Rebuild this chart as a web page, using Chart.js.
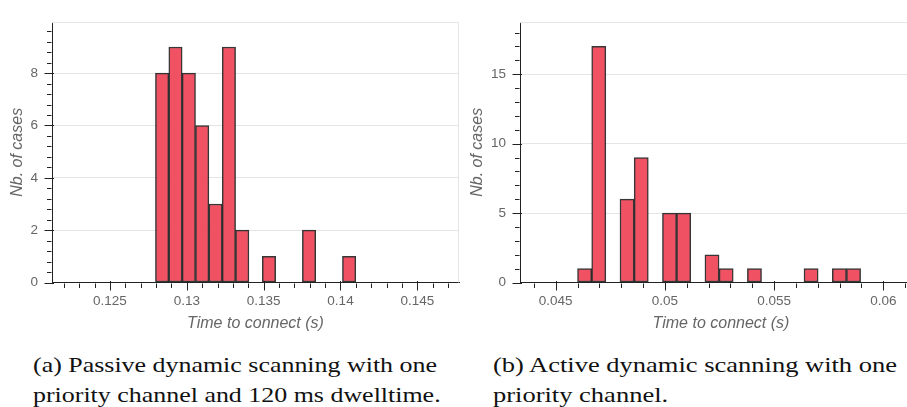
<!DOCTYPE html>
<html>
<head>
<meta charset="utf-8">
<script src="https://cdn.jsdelivr.net/npm/chart.js@4.4.1/dist/chart.umd.min.js"></script>
<style>
  html, body { margin: 0; padding: 0; background: #fff; overflow: hidden; }
  body { width: 907px; height: 407px; position: relative; }
  #passiveChart { position: absolute; left: 0; top: 0; }
  #activeChart { position: absolute; left: 460px; top: 0; }
  .caption {
    position: absolute; top: 350px;
    font-family: "Liberation Serif", "DejaVu Serif", serif;
    font-size: 21px; line-height: 30px; color: #111; white-space: nowrap;
    transform-origin: 0 0;
  }
  .caption span { display: inline-block; }
</style>
</head>
<body>
<canvas id="passiveChart" width="460" height="340"></canvas>
<canvas id="activeChart" width="465" height="340"></canvas>
<div class="caption" style="left:33px"><span>(a) Passive dynamic scanning with one</span><br><span>priority channel and 120 ms dwelltime.</span></div>
<div class="caption" style="left:493px"><span>(b) Active dynamic scanning with one</span><br><span>priority channel.</span></div>
<script>
// (a) passive scanning: bin centres (s) and counts
const passiveBins = [0.128395, 0.129264, 0.130133, 0.131002, 0.131871, 0.13274, 0.133609, 0.134478,
                     0.135347, 0.136216, 0.137085, 0.137954, 0.138823, 0.139692, 0.140561];
const passiveCounts = [8, 9, 8, 6, 3, 9, 2, 0, 1, 0, 0, 2, 0, 0, 1];
const passiveXTicks = [0.125, 0.13, 0.135, 0.14, 0.145];
const passiveYTicks = [0, 2, 4, 6, 8];

// (b) active scanning: bin centres (s) and counts
const activeBins = [0.046324, 0.046972, 0.04762, 0.048268, 0.048916, 0.049564, 0.050212, 0.05086,
                    0.051508, 0.052156, 0.052804, 0.053452, 0.0541, 0.054748, 0.055396, 0.056044,
                    0.056692, 0.05734, 0.057988, 0.058636];
const activeCounts = [1, 17, 0, 6, 9, 0, 5, 5, 0, 2, 1, 0, 1, 0, 0, 0, 1, 0, 1, 1];
const activeXTicks = [0.045, 0.05, 0.055, 0.06];
const activeYTicks = [0, 5, 10, 15];

const barFill = '#f05263';
const barEdge = 'rgba(20,20,20,0.85)';
const axisColor = '#222';
const labelColor = '#666';

// stretch the serif captions to the width of the LaTeX ones
document.querySelectorAll('.caption').forEach(c => {
    const w = c.querySelector('span').getBoundingClientRect().width;
    c.style.transform = 'scaleX(' + (404 / w) + ')';
});

// bokeh-style tick marks (major in/out, minor out) + light plot outline
const axisTicks = {
    id: 'axisTicks',
    beforeDatasetsDraw(chart) {
        const {ctx, chartArea: a} = chart;
        ctx.save();
        ctx.strokeStyle = '#e5e5e5';
        ctx.lineWidth = 1;
        ctx.beginPath();
        ctx.moveTo(a.left, a.top + 0.5);
        ctx.lineTo(a.right - 0.5, a.top + 0.5);
        ctx.lineTo(a.right - 0.5, a.bottom);
        ctx.stroke();
        ctx.restore();
    },
    afterDraw(chart, args, opts) {
        const {ctx, chartArea: a, scales: {x, y}} = chart;
        ctx.save();
        ctx.strokeStyle = axisColor;
        ctx.lineWidth = 1;
        ctx.beginPath();
        const yb = Math.round(a.bottom) + 0.5;
        const xl = Math.round(a.left) - 0.5;
        // x minor
        for (let v = Math.ceil(x.min / opts.xMinor) * opts.xMinor; v <= x.max; v += opts.xMinor) {
            const px = Math.round(x.getPixelForValue(v)) + 0.5;
            ctx.moveTo(px, yb); ctx.lineTo(px, yb + 4.5);
        }
        x.ticks.forEach(t => {
            const px = Math.round(x.getPixelForValue(t.value)) + 0.5;
            ctx.moveTo(px, yb - 2.5); ctx.lineTo(px, yb + 7);
        });
        // y minor
        for (let v = 0; v <= y.max; v += opts.yMinor) {
            const py = Math.round(y.getPixelForValue(v)) + 0.5;
            ctx.moveTo(xl, py); ctx.lineTo(xl - 4.5, py);
        }
        y.ticks.forEach(t => {
            const py = Math.round(y.getPixelForValue(t.value)) + 0.5;
            ctx.moveTo(xl + 2.5, py); ctx.lineTo(xl - 7, py);
        });
        ctx.stroke();
        ctx.restore();
    }
};

function makeHist(id, bins, counts, xTicks, yTicks, xRange, yMax, yWidth, pad, minor) {
    new Chart(document.getElementById(id), {
        type: 'bar',
        data: {
            datasets: [{
                data: bins.map((b, i) => ({x: b, y: counts[i]})),
                backgroundColor: barFill,
                borderColor: barEdge,
                borderWidth: 1.5,
                borderSkipped: false,
                barPercentage: 1,
                categoryPercentage: 1
            }]
        },
        options: {
            responsive: false,
            animation: false,
            layout: { padding: pad },
            plugins: {
                legend: { display: false },
                tooltip: { enabled: false },
                axisTicks: minor
            },
            scales: {
                x: {
                    type: 'linear',
                    offset: false,
                    min: xRange[0],
                    max: xRange[1],
                    afterBuildTicks: s => { s.ticks = xTicks.map(v => ({value: v})); },
                    afterFit: s => { s.height = 57.5; },
                    grid: { display: false, drawTicks: false },
                    border: { display: true, color: axisColor, width: 1 },
                    ticks: {
                        padding: 11,
                        color: labelColor,
                        font: { family: 'Liberation Sans', size: 13.5 },
                        callback: v => String(v)
                    },
                    title: {
                        display: true,
                        text: 'Time to connect (s)',
                        color: labelColor,
                        padding: { top: 0, bottom: 7 },
                        font: { family: 'Liberation Sans', size: 16, style: 'italic' }
                    }
                },
                y: {
                    min: 0,
                    max: yMax,
                    afterBuildTicks: s => { s.ticks = yTicks.map(v => ({value: v})); },
                    afterFit: s => { s.width = yWidth; },
                    grid: { color: '#e5e5e5', lineWidth: 1, drawTicks: false },
                    border: { display: true, color: axisColor, width: 1 },
                    ticks: {
                        padding: 14,
                        color: labelColor,
                        font: { family: 'Liberation Sans', size: 13.5 }
                    },
                    title: {
                        display: true,
                        text: 'Nb. of cases',
                        color: labelColor,
                        padding: { top: 8, bottom: 0 },
                        font: { family: 'Liberation Sans', size: 16, style: 'italic' }
                    }
                }
            }
        },
        plugins: [axisTicks]
    });
}

makeHist('passiveChart', passiveBins, passiveCounts, passiveXTicks, passiveYTicks,
    [0.12123, 0.14771], 9.95, 52, { top: 5, right: 1, left: 0, bottom: 0 }, { xMinor: 0.001, yMinor: 0.4 });
makeHist('activeChart', activeBins, activeCounts, activeXTicks, activeYTicks,
    [0.043366, 0.06177], 18.75, 60, { top: 6, right: 3, left: 0, bottom: 0 }, { xMinor: 0.001, yMinor: 1 });
</script>
</body>
</html>
